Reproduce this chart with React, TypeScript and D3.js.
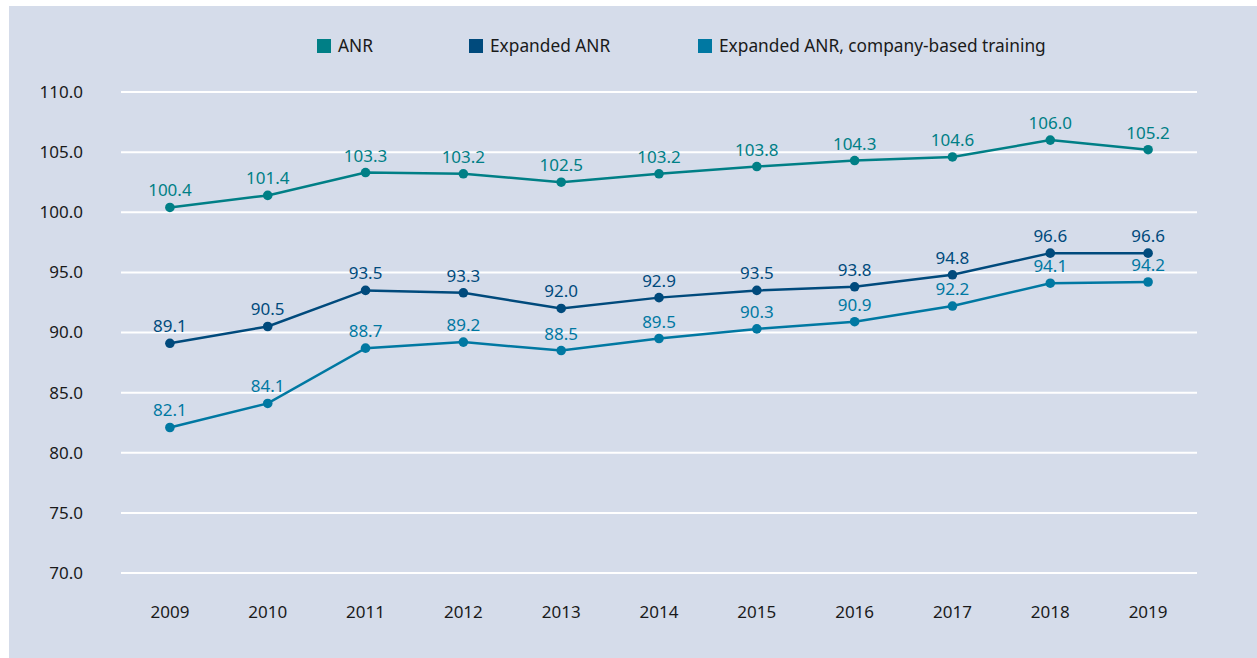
import React from "react";
import * as d3 from "d3";

const years = ["2009", "2010", "2011", "2012", "2013", "2014", "2015", "2016", "2017", "2018", "2019"];
const anr = [100.4, 101.4, 103.3, 103.2, 102.5, 103.2, 103.8, 104.3, 104.6, 106.0, 105.2];
const expandedAnr = [89.1, 90.5, 93.5, 93.3, 92.0, 92.9, 93.5, 93.8, 94.8, 96.6, 96.6];
const companyBased = [82.1, 84.1, 88.7, 89.2, 88.5, 89.5, 90.3, 90.9, 92.2, 94.1, 94.2];
const yTicks = [70, 75, 80, 85, 90, 95, 100, 105, 110];
const seriesNames = ["ANR", "Expanded ANR", "Expanded ANR, company-based training"];
const seriesColors = ["#007f86", "#004a7c", "#0078a2"];

const W = 1257;
const H = 658;
const FONT = "'Noto Sans', 'Open Sans', sans-serif";

export default function App() {
  const x = d3.scaleBand<string>().domain(years).range([121, 1197]);
  const y = d3.scaleLinear().domain([70, 110]).range([573, 92]);
  const line = d3
    .line<number>()
    .x((_, i) => (x(years[i]) as number) + x.bandwidth() / 2)
    .y((d) => y(d));
  const allSeries = [anr, expandedAnr, companyBased];
  const legendX = [317, 469, 698];

  return (
    <div style={{ position: "absolute", left: 0, top: 0, width: W, height: H }}>
      <svg width={W} height={H} style={{ display: "block" }} fontFamily={FONT}>
        <rect x={9} y={6} width={W - 9} height={H - 6} fill="#d5dcea" />
        {yTicks.map((t) => (
          <g key={t}>
            <line x1={121} x2={1197} y1={y(t)} y2={y(t)} stroke="#ffffff" strokeWidth={2} />
            <text x={83} y={y(t)} dy="0.35em" textAnchor="end" fontSize={17} fill="#1a1a1a">
              {t.toFixed(1)}
            </text>
          </g>
        ))}
        {years.map((yr) => (
          <text
            key={yr}
            x={(x(yr) as number) + x.bandwidth() / 2}
            y={612}
            dy="0.35em"
            textAnchor="middle"
            fontSize={17}
            fill="#1a1a1a"
          >
            {yr}
          </text>
        ))}
        {seriesNames.map((name, i) => (
          <g key={name}>
            <rect x={legendX[i]} y={39} width={14} height={14} fill={seriesColors[i]} />
            <text x={legendX[i] + 21} y={46} dy="0.35em" fontSize={17.3} fill="#1a1a1a">
              {name}
            </text>
          </g>
        ))}
        {allSeries.map((vals, s) => (
          <g key={s}>
            <path d={line(vals) || ""} fill="none" stroke={seriesColors[s]} strokeWidth={2.5} />
            {vals.map((v, i) => {
              const cx = (x(years[i]) as number) + x.bandwidth() / 2;
              return (
                <g key={i}>
                  <circle cx={cx} cy={y(v)} r={4.8} fill={seriesColors[s]} />
                  <text x={cx} y={y(v) - 11} textAnchor="middle" fontSize={17} fill={seriesColors[s]}>
                    {v.toFixed(1)}
                  </text>
                </g>
              );
            })}
          </g>
        ))}
      </svg>
    </div>
  );
}
